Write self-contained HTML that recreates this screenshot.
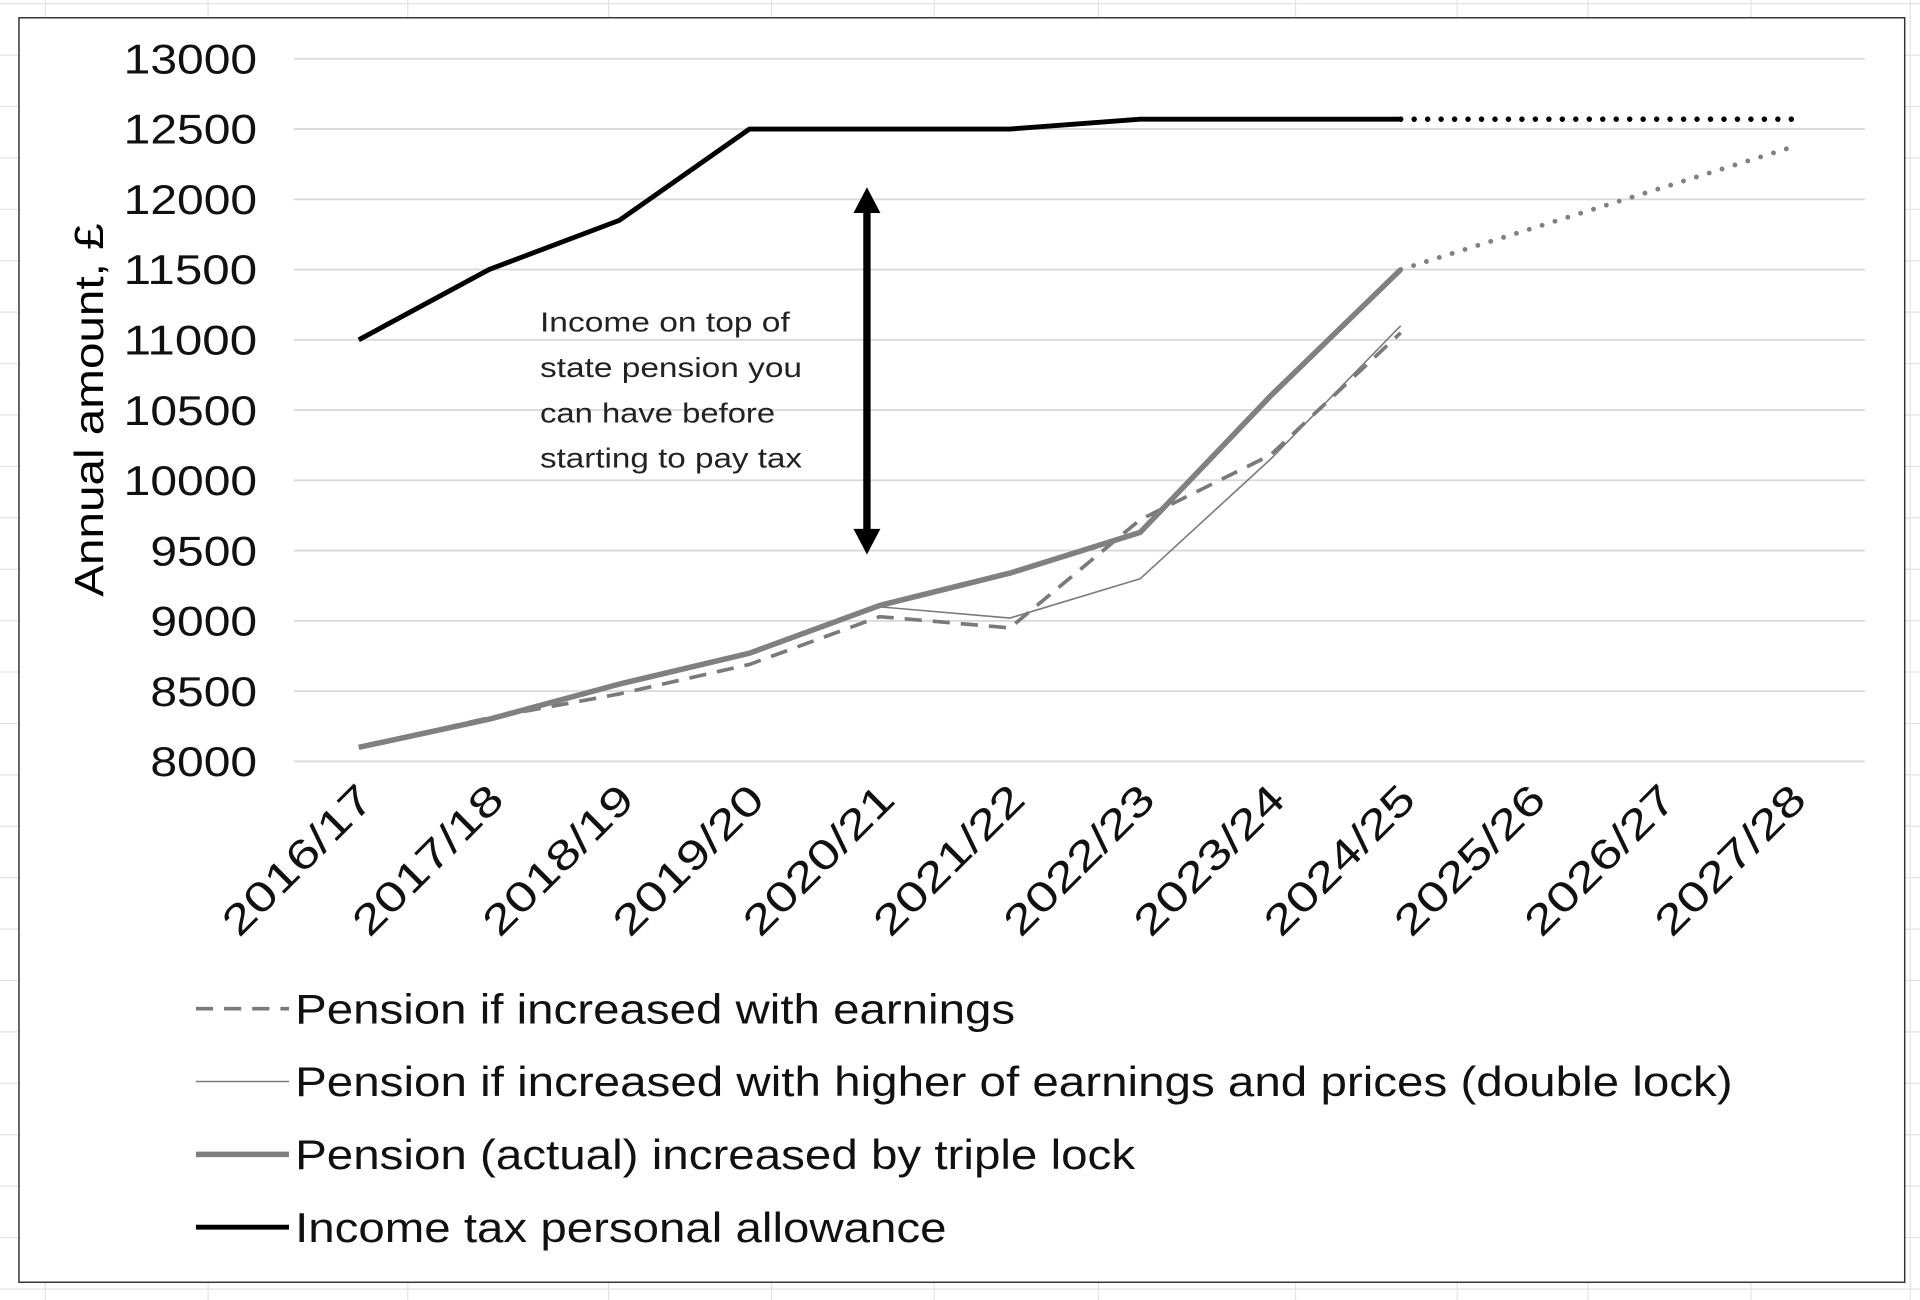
<!DOCTYPE html>
<html><head><meta charset="utf-8"><style>
html,body{margin:0;padding:0;background:#fff;}
svg{display:block;}
text{font-family:"Liberation Sans",Arial,sans-serif;}
</style></head><body>
<svg id="chart" width="1920" height="1300" viewBox="0 0 1568 1062" preserveAspectRatio="none" xmlns="http://www.w3.org/2000/svg">
<g id="sheet" stroke="#e3e3e3" stroke-width="1"></g>
<rect x="15.5" y="14.5" width="1540" height="1033" fill="#fff" stroke="#333" stroke-width="1.2"/>
<g id="grid"></g>
<g id="yticks"></g>
<text transform="translate(84,335) rotate(-90)" text-anchor="middle" font-size="33" textLength="305" lengthAdjust="spacingAndGlyphs" fill="#000">Annual amount, £</text>
<g id="xticks"></g>
<g id="series"></g>
<g>
<line x1="708" y1="172" x2="708" y2="434" stroke="#000" stroke-width="6"/>
<polygon points="697,174 719,174 708,153" fill="#000"/>
<polygon points="697,432 719,432 708,453" fill="#000"/>
</g>
<g font-size="23" fill="#222" lengthAdjust="spacingAndGlyphs">
<text x="441" y="271" textLength="204" lengthAdjust="spacingAndGlyphs">Income on top of</text>
<text x="441" y="308" textLength="214" lengthAdjust="spacingAndGlyphs">state pension you</text>
<text x="441" y="345" textLength="192" lengthAdjust="spacingAndGlyphs">can have before</text>
<text x="441" y="382" textLength="214" lengthAdjust="spacingAndGlyphs">starting to pay tax</text>
</g>
<g id="legend"></g>
</svg>
<script>
const categories=["2016/17","2017/18","2018/19","2019/20","2020/21","2021/22","2022/23","2023/24","2024/25","2025/26","2026/27","2027/28"];
const yTicks=[8000,8500,9000,9500,10000,10500,11000,11500,12000,12500,13000];
const earnings=[8100,8310,8480,8690,9030,8950,9720,10180,11050];
const doubleLock=[8100,8300,8550,8770,9100,9020,9300,10150,11100];
const tripleLock=[8100,8300,8550,8770,9110,9340,9630,10600,11500];
const tripleLockProj=[11500,null,null,12370];
const allowance=[11000,11500,11850,12500,12500,12500,12570,12570,12570];
const allowanceProj=[12570,12570,12570,12570];
const NS="http://www.w3.org/2000/svg";
const X=i=>293+i*(1463-293)/11;
const Y=v=>622-(v-8000)*(622-48)/5000;
function mk(tag,attrs,parent){const e=document.createElementNS(NS,tag);for(const k in attrs)e.setAttribute(k,attrs[k]);parent.appendChild(e);return e;}
const sheet=document.getElementById('sheet');
[37,170,333,497,630,763,897,1058,1190,1297,1430,1560].forEach(x=>{const l=mk('line',{x1:x,y1:0,x2:x,y2:1062},sheet);});
for(let y=3;y<1062;y+=42){const l=mk('line',{x1:0,y1:y,x2:1568,y2:y},sheet);}
const grid=document.getElementById('grid'),yt=document.getElementById('yticks');
yTicks.forEach(v=>{
 const l=mk('line',{x1:240,x2:1523,y1:Y(v),y2:Y(v),stroke:'#d9d9d9','stroke-width':1.5},grid);
 
 const s=String(v);
 const t=mk('text',{x:210,y:Y(v)+12,'text-anchor':'end','font-size':34,fill:'#111',textLength:s.length*21.8,lengthAdjust:'spacingAndGlyphs'},yt);
 t.textContent=s;
});
const xt=document.getElementById('xticks');
categories.forEach((c,i)=>{
 const t=mk('text',{transform:`translate(${X(i)+14},${655}) rotate(-45)`,'text-anchor':'end','font-size':34,fill:'#111',textLength:158,lengthAdjust:'spacingAndGlyphs'},xt);
 t.textContent=c;
});
const ser=document.getElementById('series');
function line(vals,offset,style,name){
 const pts=[];vals.forEach((v,i)=>{if(v!==null)pts.push(X(i+offset)+','+Y(v));});
 const p=mk('polyline',Object.assign({points:pts.join(' '),fill:'none','stroke-linejoin':'round'},style),ser);
 
}
line(tripleLockProj.map((v,i)=>i===0||i===3?v:null),8,{stroke:'#808080','stroke-width':4,'stroke-dasharray':'0 11','stroke-linecap':'round'},'triple-lock-projection');
line(allowanceProj,8,{stroke:'#000','stroke-width':4.5,'stroke-dasharray':'0 11','stroke-linecap':'round'},'allowance-projection');
line(doubleLock,0,{stroke:'#7a7a7a','stroke-width':1.3},'double-lock-line');
line(earnings,0,{stroke:'#7a7a7a','stroke-width':3,'stroke-dasharray':'14 9'},'earnings-line');
line(tripleLock,0,{stroke:'#808080','stroke-width':4.5},'triple-lock-line');
line(allowance,0,{stroke:'#000','stroke-width':4},'allowance-line');
const leg=document.getElementById('legend');
const legendLabels=["Pension if increased with earnings","Pension if increased with higher of earnings and prices (double lock)","Pension (actual) increased by triple lock","Income tax personal allowance"];
const legendWidths=[588,1174,686,532];
const legendStyles=[{stroke:'#7a7a7a','stroke-width':3,'stroke-dasharray':'14 9'},{stroke:'#7a7a7a','stroke-width':1.3},{stroke:'#808080','stroke-width':4.5},{stroke:'#000','stroke-width':4}];
legendLabels.forEach((lab,i)=>{
 const y=824+i*59.5;
 const g=mk('g',{},leg);
 
 
 mk('line',Object.assign({x1:160,x2:236,y1:y,y2:y},legendStyles[i]),g);
 const t=mk('text',{x:241,y:y+12,'font-size':34,fill:'#111',textLength:legendWidths[i],lengthAdjust:'spacingAndGlyphs'},g);t.textContent=lab;
});
</script>
</body></html>
